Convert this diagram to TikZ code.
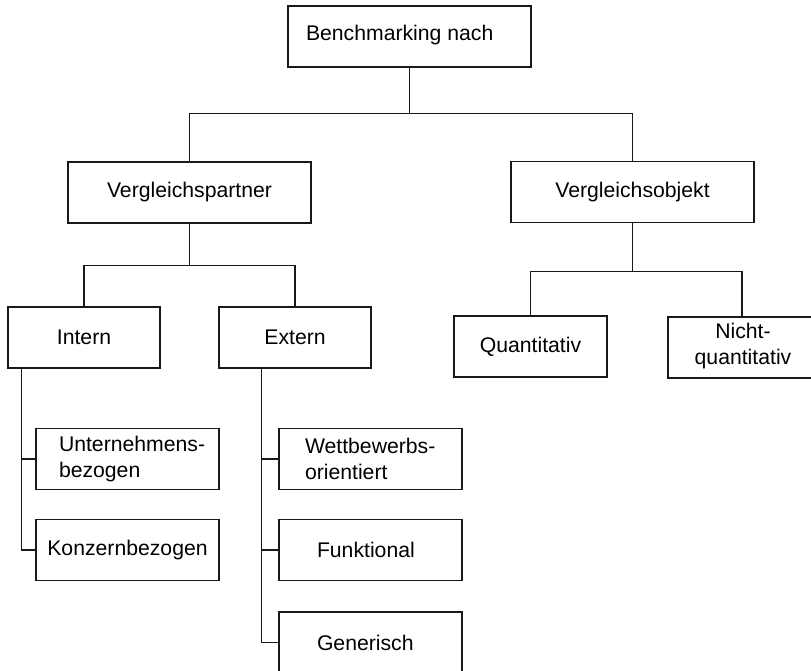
\documentclass[tikz,border=0pt]{standalone}
\usepackage{fontspec}
\setmainfont{Liberation Sans}

\newcommand{\boxfont}{\fontsize{21.2}{26}\selectfont}

\tikzset{every picture/.style={line width=1.3pt}}
\tikzset{
  box/.style={draw={rgb,255:red,25;green,25;blue,25}, rectangle, inner sep=0pt, minimum height=61pt, minimum width=#1, font=\boxfont, align=center},
  box/.default=243pt,
  lbl/.style={inner sep=0pt, font=\boxfont, align=left, anchor=west},
  link/.style={draw={rgb,255:red,25;green,25;blue,25}}
}

\begin{document}
\begin{tikzpicture}[x=1pt,y=-1pt]
    \useasboundingbox (0,0) rectangle (811,670);

    %Shape: Rectangle [top]
    \node [box] (bench) at (409.5,36.5) {};
    \node [lbl] (bench-t) at ([xshift=18pt,yshift=1.5pt]bench.west) {Benchmarking nach};
    %Shape: Rectangle [level 1]
    \node [box] (vp) at (189.5,192.5) {Vergleichspartner};
    \node [box] (vo) at (632.5,192) {Vergleichsobjekt};
    %Shape: Rectangle [level 2]
    \node [box=152pt] (intern) at (84,337.5) {Intern};
    \node [box=152pt] (extern) at (295,337.5) {Extern};
    \node [box=153pt] (quant) at (530.5,346.5) {Quantitativ};
    \node [box=164pt] (nicht) at (750,347.5) {};
    \node [lbl, anchor=center, align=center] (nicht-t) at (743,346.5) {Nicht-\\quantitativ};
    %Shape: Rectangle [level 3, intern]
    \node [box=183pt] (unt) at (127.5,459) {};
    \node [lbl] (unt-t) at ([xshift=23pt]unt.west) {Unternehmens-\\bezogen};
    \node [box=183pt] (konz) at (127.5,550) {Konzernbezogen};
    %Shape: Rectangle [level 3, extern]
    \node [box=183pt] (wett) at (370.5,459) {};
    \node [lbl] (wett-t) at ([xshift=26pt]wett.west) {Wettbewerbs-\\orientiert};
    \node [box=183pt] (funk) at (370.5,550) {};
    \node [lbl] (funk-t) at ([xshift=38pt]funk.west) {Funktional};
    \node [box=183pt] (gen) at (370.5,642.5) {};
    \node [lbl] (gen-t) at ([xshift=38pt]gen.west) {Generisch};

    %Straight Lines [tree]
    \draw [link] (bench.south) -- ++(0,46) -| (vp.north);
    \draw [link] (bench.south) -- ++(0,46) -| (vo.north);
    \draw [link] (vp.south) -- ++(0,42) -| (intern.north);
    \draw [link] (vp.south) -- ++(0,42) -| (extern.north);
    \draw [link] (vo.south) -- ++(0,48) -| (quant.north);
    \draw [link] (vo.south) -- ++(0,48) -| ([xshift=-8pt]nicht.north);
    %Straight Lines [side branches]
    \draw [link] ([xshift=14pt]intern.south west) |- (unt.west);
    \draw [link] ([xshift=14pt]intern.south west) |- (konz.west);
    \draw [link] ([xshift=43pt]extern.south west) |- (wett.west);
    \draw [link] ([xshift=43pt]extern.south west) |- (funk.west);
    \draw [link] ([xshift=43pt]extern.south west) |- (gen.west);

\end{tikzpicture}
\end{document}
